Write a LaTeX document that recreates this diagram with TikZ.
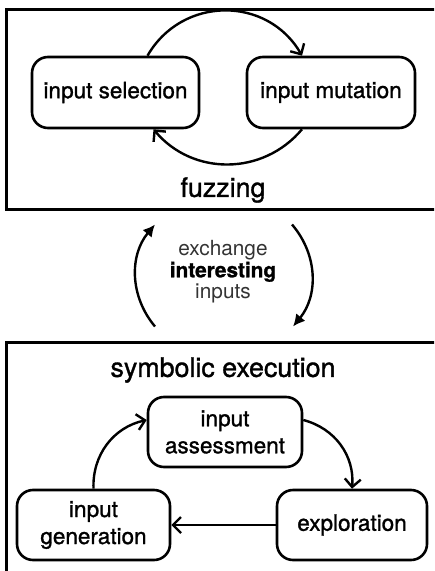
\documentclass[tikz,border=0pt]{standalone}
\usepackage{fontspec}
\setmainfont{TeX Gyre Heros}[RawFeature={embolden=1.2}]
\newfontfamily\thinfont{TeX Gyre Heros}
\usetikzlibrary{arrows.meta}

\begin{document}
\begin{tikzpicture}[x=0.5pt,y=-0.5pt,>={Straight Barb[length=4pt,width=8pt]},
  frame/.style={draw,line width=1.5pt,minimum width=217pt},
  stage/.style={draw,line width=1.3pt,rounded corners=8pt,align=center,font=\fontsize{11.25}{13.5}\selectfont,minimum height=35.5pt,inner sep=2pt},
  title/.style={font=\fontsize{13.4}{16}\selectfont},
  flow/.style={->,line width=1.2pt},
  swap/.style={-{Latex[length=6pt,width=6pt]},line width=1.2pt}]
\useasboundingbox (0,0) rectangle (434,571);
\clip (0,0) rectangle (434,571);
\node[frame,minimum height=100pt] (fuzz) at (223,110) {};
\node[frame,minimum height=120pt] (symb) at (223,462) {};
\node[stage,minimum width=83.5pt] (sel) at (115.5,92.5) {input selection};
\node[stage,minimum width=84pt] (mut) at (331,92.5) {input mutation};
\node[title] (fuzzlabel) at (223,190) {fuzzing};
\node[title] (symblabel) at (223,370) {symbolic execution};
\node[stage,minimum width=77pt,minimum height=35pt] (assess) at (225,432) {input\\assessment};
\node[stage,minimum width=75pt,minimum height=35pt] (explore) at (352,525) {exploration};
\node[stage,minimum width=76.5pt,minimum height=35pt] (gen) at (93.5,525) {input\\generation};
\node[align=center,font=\fontsize{10.4}{10.8}\selectfont] (swaptext) at (223,272) {\thinfont\color{black!80}exchange\\\textbf{interesting}\\\thinfont\color{black!80}inputs};
\draw[flow] ([xshift=16pt]sel.north) to[bend left=60,looseness=1.15] ([xshift=-14.5pt]mut.north);
\draw[flow] ([xshift=-14.5pt]mut.south) to[bend left=50,looseness=1.05] ([xshift=19pt]sel.south);
\draw[swap] ([xshift=-34pt,yshift=7pt]symb.north) to[bend left=40] ([xshift=-34pt,yshift=-6.5pt]fuzz.south);
\draw[swap] ([xshift=34.5pt,yshift=-6.5pt]fuzz.south) to[bend left=40] ([xshift=35pt,yshift=7pt]symb.north);
\draw[flow] (gen.north) to[bend left=40] ([yshift=6pt]assess.west);
\draw[flow] ([yshift=6pt]assess.east) to[bend left=40] (explore.north);
\draw[flow] (explore.west) -- (gen.east);
\end{tikzpicture}
\end{document}
